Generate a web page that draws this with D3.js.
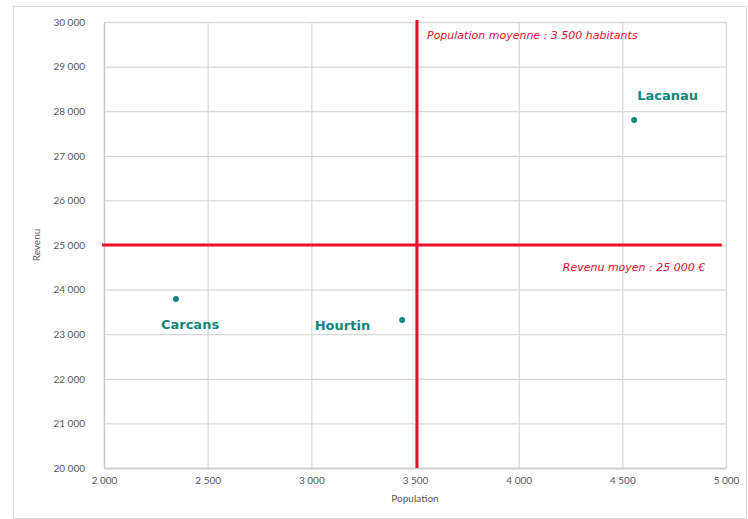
<!DOCTYPE html>
<html>
<head>
<meta charset="utf-8">
<script src="https://cdn.jsdelivr.net/npm/d3@7"></script>
<style>
  html, body { margin: 0; padding: 0; background: #fff; }
  svg { display: block; }
</style>
</head>
<body>
<script>
// Communes: population vs. revenu
const communes = ["Lacanau", "Carcans", "Hourtin"];
const population = [4557, 2347, 3438];
const revenu = [27800, 23790, 23320];

const xTicks = [2000, 2500, 3000, 3500, 4000, 4500, 5000];
const yTicks = [20000, 21000, 22000, 23000, 24000, 25000, 26000, 27000, 28000, 29000, 30000];

const populationMoyenne = 3500;
const revenuMoyen = 25000;

const W = 748, H = 519;
const margin = { left: 104, right: 22, top: 22, bottom: 51 };

const svg = d3.select("body").append("svg").attr("width", W).attr("height", H);

// Outer frame
svg.append("rect")
  .attr("x", 13.5).attr("y", 6.5)
  .attr("width", 733).attr("height", 512)
  .attr("fill", "none").attr("stroke", "#d9d9d9");

const x = d3.scaleLinear().domain([2000, 5000]).range([margin.left, W - margin.right]);
const y = d3.scaleLinear().domain([20000, 30000]).range([H - margin.bottom, margin.top]);

const fmt = v => d3.format(",")(v).replace(/,/g, " ");
const font = "'Century Gothic', 'Lato', 'DejaVu Sans', sans-serif";
const wideFont = "'Century Gothic', 'DejaVu Sans', sans-serif";

// Gridlines
svg.append("g")
  .attr("transform", `translate(0,${H - margin.bottom})`)
  .call(d3.axisBottom(x).tickValues(xTicks).tickSize(-(H - margin.top - margin.bottom)).tickFormat(""))
  .call(g => g.select(".domain").remove())
  .call(g => g.selectAll("line").attr("stroke", "#d9d9d9").attr("stroke-width", 1.3));

svg.append("g")
  .attr("transform", `translate(${margin.left},0)`)
  .call(d3.axisLeft(y).tickValues(yTicks).tickSize(-(W - margin.left - margin.right)).tickFormat(""))
  .call(g => g.select(".domain").remove())
  .call(g => g.selectAll("line").attr("stroke", "#d9d9d9").attr("stroke-width", 1.3));

// Axes with labels
svg.append("g")
  .attr("transform", `translate(0,${H - margin.bottom})`)
  .call(d3.axisBottom(x).tickValues(xTicks).tickSize(0).tickPadding(9).tickFormat(fmt))
  .call(g => g.select(".domain").attr("stroke", "#c8c8c8").attr("stroke-width", 1.3))
  .call(g => g.selectAll("text").attr("fill", "#595959").attr("font-size", 10).attr("font-family", font));

svg.append("g")
  .attr("transform", `translate(${margin.left},0)`)
  .call(d3.axisLeft(y).tickValues(yTicks).tickSize(0).tickPadding(19).tickFormat(fmt))
  .call(g => g.select(".domain").attr("stroke", "#c8c8c8").attr("stroke-width", 1.3))
  .call(g => g.selectAll("text").attr("fill", "#595959").attr("font-size", 10).attr("font-family", font));

// Axis titles
svg.append("text")
  .attr("x", (margin.left + W - margin.right) / 2).attr("y", 502)
  .attr("text-anchor", "middle").attr("fill", "#595959")
  .attr("font-size", 10).attr("font-family", font)
  .text("Population");

svg.append("text")
  .attr("transform", `translate(40,${y(25000)}) rotate(-90)`)
  .attr("text-anchor", "middle").attr("fill", "#595959")
  .attr("font-size", 10).attr("font-family", font)
  .text("Revenu");

// Average lines
const red = "#e8102d";
svg.append("line")
  .attr("x1", x(populationMoyenne) + 2).attr("x2", x(populationMoyenne) + 2)
  .attr("y1", y(30000) - 2).attr("y2", y(20000))
  .attr("stroke", red).attr("stroke-width", 3);

svg.append("line")
  .attr("x1", x(2000) - 2).attr("x2", x(4980))
  .attr("y1", y(revenuMoyen)).attr("y2", y(revenuMoyen))
  .attr("stroke", red).attr("stroke-width", 3);

svg.append("text")
  .attr("x", x(populationMoyenne) + 12).attr("y", y(30000) + 17)
  .attr("fill", red).attr("font-size", 11).attr("font-style", "italic")
  .attr("font-family", wideFont)
  .text("Population moyenne : 3 500 habitants");

svg.append("text")
  .attr("x", x(4900)).attr("y", y(revenuMoyen) + 26)
  .attr("text-anchor", "end")
  .attr("fill", red).attr("font-size", 11).attr("font-style", "italic")
  .attr("font-family", wideFont)
  .text("Revenu moyen : 25 000 €");

// Points and labels
const teal = "#0e877a";
const labelOffsets = {
  "Lacanau": { dx: 3, dy: -20, anchor: "start" },
  "Carcans": { dx: -15, dy: 30, anchor: "start" },
  "Hourtin": { dx: -32, dy: 10, anchor: "end" }
};

const pts = communes.map((c, i) => ({ name: c, pop: population[i], rev: revenu[i] }));

svg.append("g").selectAll("circle")
  .data(pts).join("circle")
  .attr("cx", d => x(d.pop)).attr("cy", d => y(d.rev))
  .attr("r", 3).attr("fill", teal);

svg.append("g").selectAll("text")
  .data(pts).join("text")
  .attr("x", d => x(d.pop) + labelOffsets[d.name].dx)
  .attr("y", d => y(d.rev) + labelOffsets[d.name].dy)
  .attr("text-anchor", d => labelOffsets[d.name].anchor)
  .attr("fill", teal).attr("font-size", 13).attr("font-weight", "bold")
  .attr("font-family", wideFont)
  .text(d => d.name);
</script>
</body>
</html>
